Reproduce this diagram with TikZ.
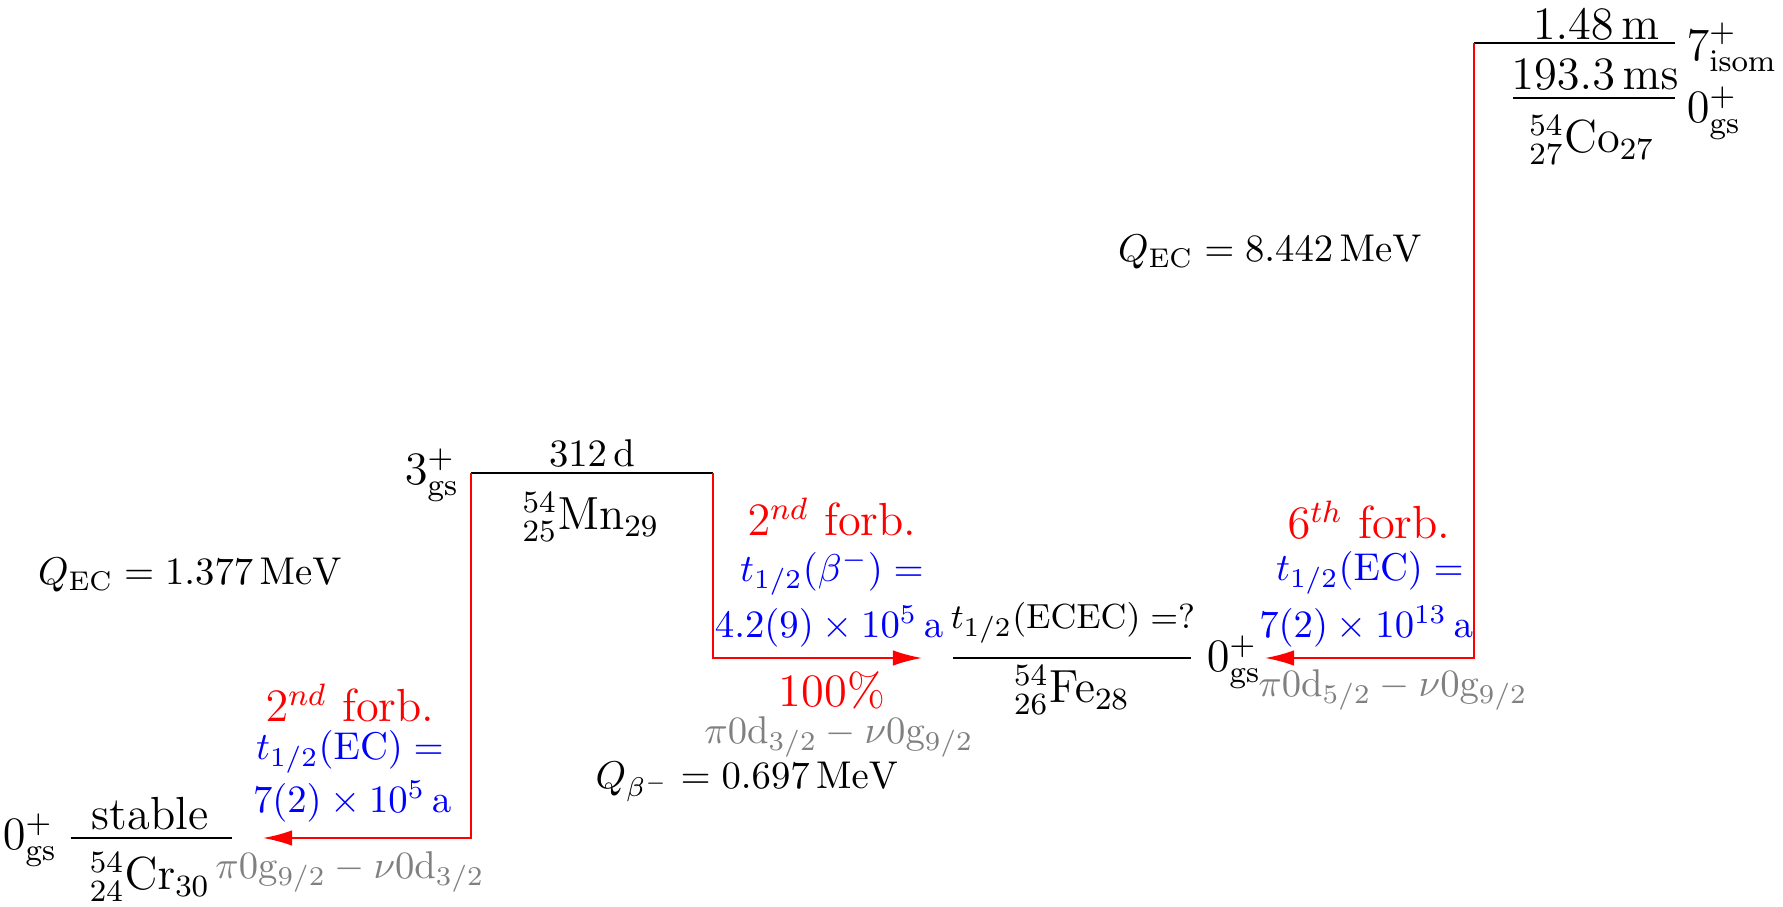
\documentclass[tikz,border=0pt]{standalone}
\usetikzlibrary{arrows.meta}
\begin{document}
\begin{tikzpicture}[x=0.2584pt,y=-0.2584pt,
  level/.style={line width=0.6pt},
  decay/.style={red,line width=0.5pt,-{Latex[length=7.5pt,width=4pt]}},
  big/.style={font=\large,inner sep=0pt},
  small/.style={font=\normalsize,inner sep=0pt},
  forb/.style={big,text=red},
  thalf/.style={small,text=blue},
  config/.style={small,text=gray}]
\useasboundingbox (0,0) rectangle (1783,907);
% levels
\coordinate (crL) at (71,838);   \coordinate (crR) at (232,838);
\coordinate (mnL) at (471,473);  \coordinate (mnR) at (713,473);
\coordinate (feL) at (953,658);  \coordinate (feR) at (1191,658);
\coordinate (coiL) at (1474,43); \coordinate (coiR) at (1675,43);
\coordinate (cogL) at (1513,98); \coordinate (cogR) at (1675,98);
\coordinate (crTip) at (263,838);
\coordinate (feTipA) at (922,658);
\coordinate (feTipB) at (1265,658);
\draw[level] (crL) -- (crR);
\draw[level] (mnL) -- (mnR);
\draw[level] (feL) -- (feR);
\draw[level] (coiL) -- (coiR);
\draw[level] (cogL) -- (cogR);
% decays
\draw[decay] (mnL) -- (mnL |- crR) -- (crTip);
\draw[decay] (mnR) -- (mnR |- feL) -- (feTipA);
\draw[decay] (coiL) -- (coiL |- feR) -- (feTipB);
% Cr
\node[big] (crStable) at (150,814) {stable};
\node[big] (crName) at (150,877) {${}^{54}_{24}\mathrm{Cr}_{30}$};
\node[big] (crSpin) at (30,840) {$0^+_{\mathrm{gs}}$};
\node[forb] (crForb) at (350,703) {$2^{nd}$ forb.};
\node[thalf] (crT1) at (350,752) {$t_{1/2}(\mathrm{EC}) =$};
\node[thalf] (crT2) at (352,802) {$7(2)\times10^{5}\,\mathrm{a}$};
\node[config] (crConf) at (350,872) {$\pi0\mathrm{g}_{9/2}-\nu0\mathrm{d}_{3/2}$};
\node[small] (qCr) at (190,575) {$Q_{\mathrm{EC}}=1.377\,\mathrm{MeV}$};
% Mn
\node[small] (mnHalf) at (592,453) {$312\,\mathrm{d}$};
\node[big] (mnName) at (591,517) {${}^{54}_{25}\mathrm{Mn}_{29}$};
\node[big] (mnSpin) at (432,475) {$3^+_{\mathrm{gs}}$};
\node[forb] (mnForb) at (832,517) {$2^{nd}$ forb.};
\node[thalf] (mnT1) at (832,573) {$t_{1/2}(\beta^-) =$};
\node[thalf] (mnT2) at (829,627) {$4.2(9)\times10^{5}\,\mathrm{a}$};
\node[forb] (mnBr) at (832,690) {100\%};
\node[config] (mnConf) at (839,737) {$\pi0\mathrm{d}_{3/2}-\nu0\mathrm{g}_{9/2}$};
\node[small] (qMn) at (747,782) {$Q_{\beta^-}=0.697\,\mathrm{MeV}$};
% Fe
\node[small,font=\fontsize{9.4}{11}\selectfont] (feHalf) at (1073,623) {$t_{1/2}(\mathrm{ECEC}) =?$};
\node[big] (feName) at (1072,690) {${}^{54}_{26}\mathrm{Fe}_{28}$};
\node[big] (feSpin) at (1234,662) {$0^+_{\mathrm{gs}}$};
% Co
\node[forb] (coForb) at (1369,520) {$6^{th}$ forb.};
\node[thalf] (coT1) at (1370,573) {$t_{1/2}(\mathrm{EC}) =$};
\node[thalf] (coT2) at (1366,627) {$7(2)\times10^{13}\,\mathrm{a}$};
\node[config] (coConf) at (1393,690) {$\pi0\mathrm{d}_{5/2}-\nu0\mathrm{g}_{9/2}$};
\node[small] (qCo) at (1270,252) {$Q_{\mathrm{EC}}=8.442\,\mathrm{MeV}$};
\node[big] (coiHalf) at (1596,25) {$1.48\,\mathrm{m}$};
\node[big] (coiSpin) at (1732,47) {$7^+_{\mathrm{isom}}$};
\node[big] (cogHalf) at (1595,75) {$193.3\,\mathrm{ms}$};
\node[big] (coName) at (1592,140) {${}^{54}_{27}\mathrm{Co}_{27}$};
\node[big] (cogSpin) at (1714,113) {$0^+_{\mathrm{gs}}$};
\end{tikzpicture}
\end{document}
